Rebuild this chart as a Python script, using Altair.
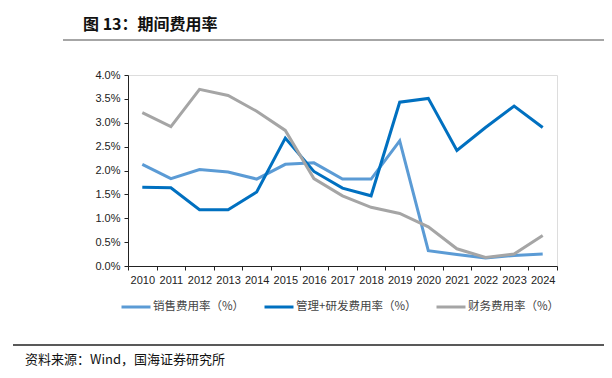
import altair as alt
import pandas as pd

years = [str(y) for y in range(2010, 2025)]
sales = [2.13, 1.83, 2.02, 1.97, 1.82, 2.13, 2.16, 1.82, 1.82, 2.62, 0.32, 0.24, 0.17, 0.22, 0.25]
admin_rd = [1.65, 1.64, 1.18, 1.18, 1.55, 2.68, 1.98, 1.63, 1.47, 3.43, 3.51, 2.42, 2.90, 3.35, 2.90]
finance = [3.21, 2.92, 3.70, 3.57, 3.24, 2.84, 1.83, 1.47, 1.23, 1.10, 0.82, 0.36, 0.18, 0.25, 0.64]
series_names = ["销售费用率（%）", "管理+研发费用率（%）", "财务费用率（%）"]
series_colors = ["#5B9BD5", "#0070C0", "#A5A5A5"]
y_ticks = [0, 0.5, 1.0, 1.5, 2.0, 2.5, 3.0, 3.5, 4.0]

rows = []
for name, vals in zip(series_names, [sales, admin_rd, finance]):
    for yr, v in zip(years, vals):
        rows.append({"year": yr, "value": v, "series": name, "order": series_names.index(name)})
df = pd.DataFrame(rows)

W, H = 429, 191
PL, PT = 120, 67

lines = alt.Chart(df).mark_line(strokeWidth=3, strokeJoin="miter").encode(
    x=alt.X("year:O", sort=years, title=None,
            scale=alt.Scale(paddingInner=0, paddingOuter=0),
            axis=alt.Axis(labelAngle=0, tickBand="extent", labelFontSize=11,
                          labelColor="#222", labelFont="Liberation Sans",
                          domainColor="#222", tickColor="#222", tickSize=4,
                          labelPadding=4, grid=False)),
    y=alt.Y("value:Q", title=None,
            scale=alt.Scale(domain=[0, 4], nice=False),
            axis=alt.Axis(values=y_ticks, labelExpr="format(datum.value, '.1f') + '%'",
                          labelFontSize=11, labelColor="#222", labelFont="Liberation Sans",
                          domainColor="#222", tickColor="#222", tickSize=4,
                          labelPadding=4, grid=False)),
    color=alt.Color("series:N", sort=series_names,
                    scale=alt.Scale(domain=series_names, range=series_colors),
                    legend=alt.Legend(title=None, orient="none", direction="horizontal",
                                      legendX=-8, legendY=216,
                                      symbolType="stroke", symbolStrokeWidth=3,
                                      symbolSize=841, labelFontSize=11.5,
                                      labelFont="Noto Sans CJK SC", labelColor="#444",
                                      columnPadding=13, symbolOffset=0, labelOffset=1)),
    order="order:Q",
)

one = pd.DataFrame({"a": [0]})
title_txt = alt.Chart(one).mark_text(
    text="图 13：期间费用率", align="left", baseline="alphabetic",
    fontSize=16, fontWeight="bold", font="Noto Sans CJK SC", color="#111"
).encode(x=alt.value(83 - 8 - PL), y=alt.value(30 - 8 - PT))

top_rule = alt.Chart(one).mark_rule(color="#888", strokeWidth=1.5).encode(
    x=alt.value(63 - 8 - PL), x2=alt.value(612 - 8 - PL),
    y=alt.value(40 - 8 - PT))

edge_mark = alt.Chart(one).mark_rule(color="#111", strokeWidth=2).encode(
    x=alt.value(611 - 8 - PL), y=alt.value(16 - 8 - PT), y2=alt.value(32 - 8 - PT))

bot_rule = alt.Chart(one).mark_rule(color="#222", strokeWidth=1.5).encode(
    x=alt.value(13 - 8 - PL), x2=alt.value(612 - 8 - PL),
    y=alt.value(345 - 8 - PT))

src_txt = alt.Chart(one).mark_text(
    text="资料来源：Wind，国海证券研究所", align="left", baseline="alphabetic",
    fontSize=13, font="Noto Sans CJK SC", color="#111"
).encode(x=alt.value(25 - 8 - PL), y=alt.value(364 - 8 - PT))

chart = alt.layer(lines, top_rule, edge_mark, bot_rule, title_txt, src_txt).properties(
    width=W, height=H,
    autosize=alt.AutoSizeParams(type="none"),
    padding={"left": PL, "top": PT, "right": 596 - PL - W, "bottom": 362 - PT - H},
).configure_view(stroke=None).configure(background="white")

chart.save("out.html", embed_options={"renderer": "svg", "actions": False})
